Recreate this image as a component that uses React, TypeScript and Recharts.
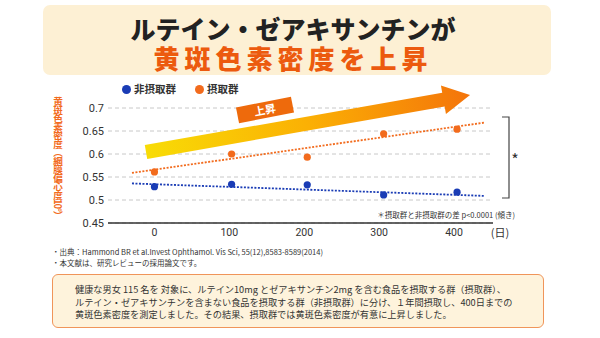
import React from 'react'
import { ComposedChart, Scatter, Line, XAxis, YAxis, CartesianGrid } from 'recharts'

// measurement days and macular pigment optical density per group
const days = [0, 103, 204, 306, 404]
const nonIntake = [0.529, 0.534, 0.533, 0.511, 0.517]
const intake = [0.561, 0.6, 0.593, 0.644, 0.654]

// dotted trend lines (end points)
const trendDays = [-30, 440]
const nonIntakeTrend = [0.536, 0.509]
const intakeTrend = [0.559, 0.668]

const xTicks = [0, 100, 200, 300, 400]
const yTicks = [0.45, 0.5, 0.55, 0.6, 0.65, 0.7]

const BLUE = '#1a3cb5'
const ORANGE = '#f26b1d'
const JP = '"Noto Sans CJK JP", "Noto Sans", sans-serif'

const toRows = (xs: number[], ys: number[]) => xs.map((d, i) => ({ day: d, v: ys[i] }))

const dot = (color: string) => (props: any) => (
  <circle cx={props.cx} cy={props.cy} r={3.6} fill={color} />
)

const App = () => {
  return (
    <div style={{ position: 'absolute', left: 0, top: 0, width: 600, height: 338, background: '#fff', overflow: 'hidden', fontFamily: JP }}>
      {/* title */}
      <div style={{
        position: 'absolute', left: 43, top: 5, width: 508, height: 70,
        background: '#fdf0d4', borderRadius: 7, textAlign: 'center'
      }}>
        <div style={{ fontSize: 25, fontWeight: 900, color: '#222', lineHeight: '26px', marginTop: 10, paddingRight: 8 }}>
          ルテイン・ゼアキサンチンが
        </div>
        <div style={{ fontSize: 26, fontWeight: 900, color: '#ec5a0e', lineHeight: '28px', marginTop: 3, letterSpacing: 5, paddingRight: 8 }}>
          黄斑色素密度を上昇
        </div>
      </div>

      <div style={{ position: 'absolute', left: 0, top: 0 }}>
        <ComposedChart width={600} height={338} margin={{ top: 108, right: 107, bottom: 85, left: 48 }}>
          <CartesianGrid vertical={false} stroke="#c8c8c8" strokeDasharray="4 3" />
          <XAxis
            dataKey="day"
            type="number"
            domain={[-62, 452]}
            ticks={xTicks}
            interval={0}
            allowDataOverflow
            tickLine={false}
            tickSize={4}
            height={30}
            axisLine={{ stroke: '#333', strokeWidth: 1.4 }}
            tick={{ fontSize: 10.5, fill: '#333', fontFamily: 'Roboto, sans-serif' }}
          />
          <YAxis
            type="number"
            width={60}
            domain={[0.45, 0.7]}
            ticks={yTicks}
            interval={0}
            allowDataOverflow
            tickLine={false}
            axisLine={false}
            tickSize={2}
            tickMargin={2}
            tick={{ fontSize: 11, fill: '#333', fontFamily: 'Roboto, sans-serif' }}
          />
          <Line data={toRows(trendDays, intakeTrend)} dataKey="v" stroke={ORANGE} strokeWidth={1.8} strokeDasharray="2 1.5" dot={false} isAnimationActive={false} />
          <Line data={toRows(trendDays, nonIntakeTrend)} dataKey="v" stroke={BLUE} strokeWidth={1.8} strokeDasharray="2 1.5" dot={false} isAnimationActive={false} />
          <Scatter data={toRows(days, nonIntake)} dataKey="v" shape={dot(BLUE)} isAnimationActive={false} />
          <Scatter data={toRows(days, intake)} dataKey="v" shape={dot(ORANGE)} isAnimationActive={false} />
        </ComposedChart>
      </div>

      {/* arrow, label, bracket */}
      <svg width={600} height={338} style={{ position: 'absolute', left: 0, top: 0, pointerEvents: 'none' }}>
        <defs>
          <linearGradient id="arrowGrad" x1="0" y1="0" x2="329" y2="0" gradientUnits="userSpaceOnUse">
            <stop offset="0" stopColor="#f8dc06" />
            <stop offset="0.5" stopColor="#fbb004" />
            <stop offset="1" stopColor="#f4740a" />
          </linearGradient>
        </defs>
        <g transform="translate(146,152) rotate(-9.98)">
          <polygon points="0,-7 302,-7 302,-14.5 329,0 302,14.5 302,7 0,7" fill="url(#arrowGrad)" />
        </g>
        <g transform="translate(265,110) rotate(-11)">
          <rect x={-28} y={-8} width={56} height={16} fill="#ee6a0c" />
          <text x={0} y={4} textAnchor="middle" fontSize={11} fontWeight={700} fill="#fff" fontFamily={JP}>上昇</text>
        </g>
        <path d="M502,117 H509 V198 H502" fill="none" stroke="#444" strokeWidth={1.2} />
        <text x={515} y={166} textAnchor="middle" fontSize={16} fill="#333" fontFamily={JP}>*</text>
        <text x={515} y={218} textAnchor="end" fontSize={7.5} fill="#333" fontFamily={JP}>＊摂取群と非摂取群の差 p&lt;0.0001 (傾き)</text>
        <text x={500} y={237} textAnchor="middle" fontSize={11} fill="#333" fontFamily={JP}>(日)</text>
      </svg>

      {/* legend */}
      <div style={{ position: 'absolute', left: 122, top: 81, display: 'flex', alignItems: 'center', fontSize: 10.5, fontWeight: 700, color: '#333', lineHeight: '16px' }}>
        <span style={{ width: 9, height: 9, borderRadius: '50%', background: BLUE, display: 'inline-block', marginRight: 3 }} />
        <span>非摂取群</span>
        <span style={{ width: 9, height: 9, borderRadius: '50%', background: ORANGE, display: 'inline-block', marginLeft: 19, marginRight: 3 }} />
        <span>摂取群</span>
      </div>

      {/* y-axis title, vertical */}
      <div style={{
        position: 'absolute', left: 52, top: 97, height: 140, writingMode: 'vertical-rl', whiteSpace: 'nowrap',
        fontSize: 9.6, letterSpacing: -1.1, fontWeight: 700, color: ORANGE, lineHeight: '12px'
      }}>
        黄斑色素密度（網膜偏心度10°）
      </div>

      {/* source notes */}
      <div style={{ position: 'absolute', left: 52, top: 246, fontSize: 7.5, color: '#333', lineHeight: '11px' }}>
        <div>・出典：Hammond BR et al.Invest Ophthamol. Vis Sci, 55(12),8583-8589(2014)</div>
        <div>・本文献は、研究レビューの採用論文です。</div>
      </div>

      {/* summary box */}
      <div style={{
        position: 'absolute', left: 52, top: 274, width: 492, height: 54,
        border: '1.5px solid #f0955a', borderRadius: 6, background: '#fef3dc',
        boxSizing: 'border-box', padding: '8px 0 0 22px', fontSize: 9.2, color: '#333', lineHeight: '12.5px'
      }}>
        <div>健康な男女 115 名を 対象に、ルテイン10mg とゼアキサンチン2mg を含む食品を摂取する群（摂取群）、</div>
        <div>ルテイン・ゼアキサンチンを含まない食品を摂取する群（非摂取群）に分け、１年間摂取し、400日までの</div>
        <div>黄斑色素密度を測定しました。その結果、摂取群では黄斑色素密度が有意に上昇しました。</div>
      </div>
    </div>
  )
}

export default App
